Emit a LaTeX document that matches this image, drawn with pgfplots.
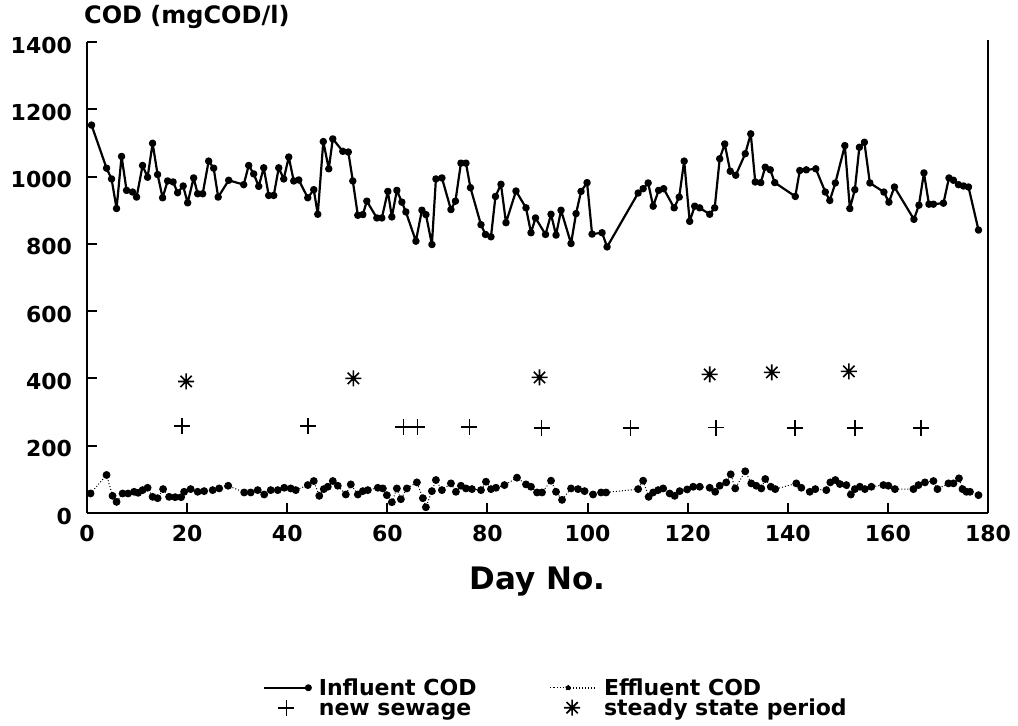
\documentclass[border=0pt]{standalone}
\usepackage{pgfplots}
\usepackage{pgfplotstable}
\pgfplotsset{compat=1.18}
\usepackage{fontspec}
\setmainfont{DejaVu Sans}

% eight-ray asterisk for the steady state periods
\pgfdeclareplotmark{star8}{%
  \pgfpathmoveto{\pgfqpoint{0pt}{\pgfplotmarksize}}%
  \pgfpathlineto{\pgfqpoint{0pt}{-\pgfplotmarksize}}%
  \pgfpathmoveto{\pgfqpoint{\pgfplotmarksize}{0pt}}%
  \pgfpathlineto{\pgfqpoint{-\pgfplotmarksize}{0pt}}%
  \pgfpathmoveto{\pgfqpoint{0.707\pgfplotmarksize}{0.707\pgfplotmarksize}}%
  \pgfpathlineto{\pgfqpoint{-0.707\pgfplotmarksize}{-0.707\pgfplotmarksize}}%
  \pgfpathmoveto{\pgfqpoint{0.707\pgfplotmarksize}{-0.707\pgfplotmarksize}}%
  \pgfpathlineto{\pgfqpoint{-0.707\pgfplotmarksize}{0.707\pgfplotmarksize}}%
  \pgfusepathqstroke}

% legend pictures
\pgfplotsset{
  markleg/.style={legend image code/.code={%
    \draw[mark repeat=2, mark phase=2, ##1] plot coordinates {(0pt,0pt) (11pt,0pt) (22pt,0pt)};}},
  inflleg/.style={legend image code/.code={%
    \draw[line width=1pt] (0pt,0pt) -- (23pt,0pt);
    \fill (22pt,0pt) circle (1.2pt);}},
  effleg/.style={legend image code/.code={%
    \draw[line width=0.6pt, densely dotted] (0pt,0pt) -- (8pt,0pt);
    \fill (9pt,0pt) circle (1.2pt);
    \draw[line width=1pt] (10pt,0pt) -- (23pt,0pt);}},
}

\pgfplotstableread{
day cod
0.9 1153
3.9 1025
4.9 993
5.9 905
6.9 1060
7.9 959
9.1 954
9.9 939
11.1 1033
12.1 998
13.1 1099
14.1 1006
15.1 937
16.1 987
17.2 984
18.1 952
19.2 972
20.1 922
21.3 996
22.1 949
23.1 949
24.3 1046
25.3 1025
26.2 939
28.3 989
31.3 976
32.3 1033
33.3 1008
34.3 971
35.3 1026
36.3 944
37.3 944
38.3 1026
39.3 993
40.3 1058
41.3 987
42.3 990
44.1 937
45.3 961
46.1 888
47.2 1104
48.3 1023
49.1 1112
51.1 1075
52.2 1073
53.1 987
54.1 885
55.1 887
55.9 927
57.9 877
58.9 877
60.1 956
60.9 880
61.9 959
62.9 924
63.7 895
65.7 808
66.9 900
67.7 887
68.9 798
69.7 993
70.9 996
72.7 902
73.6 927
74.7 1040
75.7 1040
76.6 967
78.7 857
79.6 828
80.7 821
81.6 941
82.7 977
83.7 863
85.7 957
87.7 907
88.7 833
89.6 877
91.6 828
92.7 888
93.7 826
94.7 900
96.7 801
97.7 890
98.7 956
99.9 982
100.9 829
102.9 833
103.9 791
110.1 951
111.1 964
112.1 981
113.1 912
114.2 959
115.2 964
117.3 907
118.3 939
119.3 1046
120.4 867
121.4 912
122.4 907
124.4 888
125.4 907
126.4 1053
127.4 1097
128.5 1016
129.6 1004
131.5 1068
132.6 1127
133.5 984
134.6 982
135.5 1028
136.5 1020
137.4 982
141.5 941
142.4 1018
143.7 1020
145.6 1023
147.5 954
148.4 929
149.5 981
151.4 1092
152.4 905
153.4 961
154.3 1087
155.3 1102
156.4 981
159.2 954
160.2 924
161.3 969
165.2 873
166.2 915
167.2 1011
168.2 918
169.1 918
171.1 921
172.2 996
173.1 989
174.1 976
175.1 972
176.1 969
178.1 841
}\influent

\pgfplotstableread{
day cod
0.7 58
3.9 113
5.1 51
5.9 33
7.1 58
8.2 58
9.4 63
10.2 60
11.1 68
12.1 75
13.1 48
14.1 44
15.2 71
16.4 48
17.6 47
18.8 47
19.4 63
20.7 71
22.1 63
23.4 65
25.1 68
26.4 73
28.2 81
31.4 61
32.7 61
34.1 68
35.4 55
36.7 68
38.1 68
39.4 75
40.7 73
41.7 68
44.1 83
45.3 95
46.4 51
47.3 71
48.1 78
49.1 95
50.1 81
51.7 55
52.7 85
54.1 55
55.1 65
56.1 68
58.1 75
59.1 73
59.9 53
60.9 32
61.9 73
62.7 41
63.9 73
65.9 91
67.1 44
67.7 17
68.9 65
69.7 98
70.9 68
72.7 88
73.7 63
74.7 81
75.7 73
76.9 71
78.7 68
79.7 93
80.7 71
81.7 75
83.4 83
85.9 105
87.7 85
88.7 78
89.9 61
90.9 61
92.7 96
93.7 63
94.9 39
96.7 73
98.1 71
99.4 65
101.1 55
102.7 61
103.7 61
110.1 71
111.1 96
112.2 48
113.1 61
114.1 68
115.1 73
116.4 58
117.4 51
118.4 65
119.9 70
121.1 78
122.4 78
124.4 75
125.5 63
126.4 81
127.7 91
128.6 115
129.5 73
131.5 124
132.7 88
133.7 81
134.7 73
135.5 101
136.6 78
137.5 71
141.7 88
142.7 75
144.4 63
145.5 71
147.7 68
148.5 91
149.5 98
150.4 86
151.7 83
152.6 55
153.4 71
154.4 78
155.4 71
156.7 78
159.1 83
160.1 81
161.4 71
165.1 71
166.1 83
167.4 91
169.1 95
169.9 71
172.1 88
173.1 88
174.2 103
174.9 71
175.7 63
176.4 63
178.1 53
}\effluent

\pgfplotstableread{
day cod
19.0 258
44.2 258
63.2 255
66.0 255
76.4 255
90.8 252
108.6 252
125.6 254
141.4 252
153.4 252
166.6 252
}\sewage

\pgfplotstableread{
day cod
19.8 391
53.2 400
90.4 403
124.4 412
136.8 418
152.2 421
}\steady

\begin{document}
\begin{tikzpicture}
\begin{axis}[
  scale only axis,
  width=450.5pt, height=235.5pt,
  xmin=0, xmax=180, ymin=0, ymax=1400,
  clip=false,
  axis x line*=bottom, axis y line*=left,
  axis line style={-, line width=1.2pt},
  xtick={0,20,...,180}, ytick={0,200,...,1400},
  tick align=inside, major tick length=5pt,
  tick style={line width=1pt, black},
  /pgf/number format/assume math mode=true,
  /pgf/number format/1000 sep={},
  ticklabel style={font=\fontsize{11}{13}\selectfont\bfseries},
  xticklabel style={yshift=-2.5pt},
  yticklabel style={xshift=-4pt, yshift=-1.5pt},
  xlabel={Day No.},
  xlabel style={font=\fontsize{15.5}{18}\selectfont\bfseries,
    at={(rel axis cs:0.5,-0.1465)}, anchor=center},
  ylabel={COD (mgCOD/l)},
  ylabel style={font=\fontsize{12}{14}\selectfont\bfseries, rotate=-90,
    at={(rel axis cs:-0.011,1.053)}, anchor=west},
  legend columns=2,
  legend cell align=left,
  legend style={at={(rel axis cs:0.52,-0.35)}, anchor=north,
    draw=none, fill=none, inner sep=0pt,
    font=\fontsize{11}{13}\selectfont\bfseries,
    nodes={inner sep=0.5pt, text height=8pt, text depth=0.5pt},
    /tikz/every odd column/.append style={column sep=3pt},
    /tikz/every even column/.append style={column sep=36pt},
    row sep=0.5pt},
]
\addplot[black, line width=1.1pt, line join=round, mark=*, mark size=1.3pt, inflleg]
  table[x=day, y=cod] {\influent};
\addlegendentry{Influent COD}

\addplot[black, line width=0.5pt, densely dotted, mark=*, mark size=1.7pt,
  mark options={solid}, effleg]
  table[x=day, y=cod] {\effluent};
\addlegendentry{Effluent COD}

\addplot[black, only marks, mark=+, mark size=4pt, line width=0.8pt, markleg]
  table[x=day, y=cod] {\sewage};
\addlegendentry{new sewage}

\addplot[black, only marks, mark=star8, mark size=4pt, line width=0.8pt, markleg]
  table[x=day, y=cod] {\steady};
\addlegendentry{steady state period}

% right-hand frame line (no top line)
\draw[line width=1.2pt] (rel axis cs:1,0) -- (rel axis cs:1,1.005);

\coordinate (bbsw) at (rel axis cs:-0.0966,-0.4522);
\coordinate (bbne) at (rel axis cs:1.0333,1.0892);
\end{axis}
\pgfresetboundingbox
\useasboundingbox (bbsw) rectangle (bbne);
\end{tikzpicture}
\end{document}
